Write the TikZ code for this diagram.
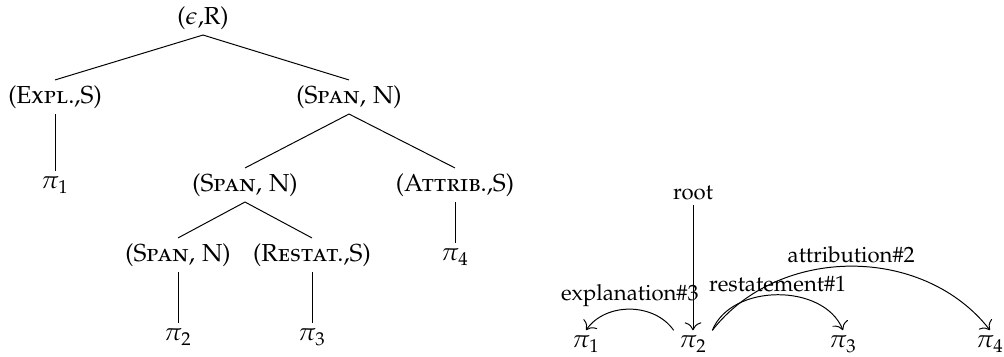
\documentclass[tikz,border=0pt]{standalone}
\usepackage[T1]{fontenc}
\usepackage[sc]{mathpazo}
\usetikzlibrary{arrows.meta}
\begin{document}
\begin{tikzpicture}
  [x=0.0143cm,y=-0.0143cm,every node/.style={inner sep=2pt},>={To[scale=1.3]},
   rel/.style={font=\small,above,inner sep=1pt}]
  \useasboundingbox (0,0) rectangle (1004,357);
  % constituency tree
  \node (r) at (203,18) {($\epsilon$,R)};
  \node (expl) at (55,97) {(\textsc{Expl.},S)};
  \node (sp1) at (349,97) {(\textsc{Span}, N)};
  \node (e1) at (55,185) {$\pi_1$};
  \node (sp2) at (245,185) {(\textsc{Span}, N)};
  \node (attr) at (455,185) {(\textsc{Attrib.},S)};
  \node (sp3) at (178,255) {(\textsc{Span}, N)};
  \node (rest) at (312,255) {(\textsc{Restat.},S)};
  \node (e4) at (455,257) {$\pi_4$};
  \node (e2) at (178,337) {$\pi_2$};
  \node (e3) at (312,337) {$\pi_3$};

  \foreach \from/\to in {r/expl,r/sp1,expl/e1,sp1/sp2,sp1/attr,attr/e4,sp2/sp3,sp2/rest,sp3/e2,rest/e3}
    \draw (\from.south) -- (\to.north);

  % dependency structure
  \node[font=\small] (root) at (693,193) {root};
  \node (d1) at (586,344) {$\pi_1$};
  \node (d2) at (693,344) {$\pi_2$};
  \node (d3) at (843,344) {$\pi_3$};
  \node (d4) at (990,344) {$\pi_4$};

  \draw[->] (root) -- (d2);
  \draw[->] (d2.north west) to[out=125,in=55] node[rel] {explanation\#3} (d1.north);
  \draw[->] (d2.north east) to[out=68,in=112] node[rel] {restatement\#1} (d3.north);
  \draw[->] (d2.north east) to[out=52,in=128] node[rel] {attribution\#2} (d4.north);
\end{tikzpicture}
\end{document}
